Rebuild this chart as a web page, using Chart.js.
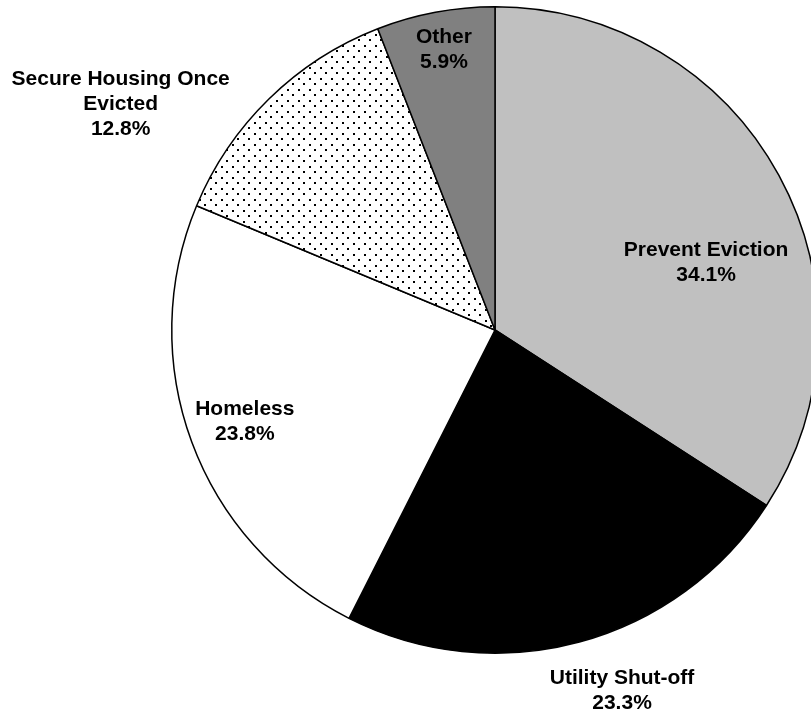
<!DOCTYPE html>
<html>
<head>
<meta charset="utf-8">
<script src="https://cdn.jsdelivr.net/npm/chart.js@4"></script>
<style>
  html, body { margin: 0; padding: 0; background: #ffffff; overflow: hidden; width: 811px; height: 715px; }
  #wrap { width: 990px; height: 715px; }
</style>
</head>
<body>
<div id="wrap"><canvas id="c" width="990" height="715"></canvas></div>
<script>
// ---- data ----
const categories = ["Prevent Eviction", "Utility Shut-off", "Homeless", "Secure Housing Once Evicted", "Other"];
const shares = [34.1, 23.3, 23.8, 12.8, 5.9];
const labelLines = [
  ["Prevent Eviction"],
  ["Utility Shut-off"],
  ["Homeless"],
  ["Secure Housing Once", "Evicted"],
  ["Other"]
];

// ---- label placement (fractions of radius from pie centre) ----
const labelOffsets = [
  [0.653, -0.207],
  [0.393, 1.115],
  [-0.774, 0.285],
  [-1.158, -0.700],
  [-0.158, -0.867]
];

// dotted pattern
function makeDots() {
  const t = document.createElement('canvas');
  t.width = 11; t.height = 11;
  const g = t.getContext('2d');
  g.fillStyle = '#ffffff';
  g.fillRect(0, 0, 11, 11);
  g.fillStyle = '#000000';
  g.fillRect(1, 1, 2, 2);
  g.fillRect(6, 6, 2, 2);
  return g.createPattern(t, 'repeat');
}

const ctx = document.getElementById('c').getContext('2d');
const fills = ['#c0c0c0', '#000000', '#ffffff', makeDots(), '#808080'];

const labelPlugin = {
  id: 'sliceLabels',
  afterDatasetsDraw(chart) {
    const meta = chart.getDatasetMeta(0);
    const c = chart.ctx;
    c.save();
    c.font = 'bold 21px "Liberation Sans", Arial, sans-serif';
    c.fillStyle = '#000000';
    c.textAlign = 'center';
    c.textBaseline = 'middle';
    const lh = 25;
    meta.data.forEach((arc, i) => {
      const r = arc.outerRadius;
      const cx = arc.x + labelOffsets[i][0] * r;
      const cy = arc.y + labelOffsets[i][1] * r;
      const lines = labelLines[i].concat([shares[i].toFixed(1) + '%']);
      const y0 = cy - (lines.length - 1) * lh / 2;
      lines.forEach((ln, k) => c.fillText(ln, cx, y0 + k * lh));
    });
    c.restore();
  }
};

new Chart(ctx, {
  type: 'pie',
  data: {
    labels: categories,
    datasets: [{
      data: shares,
      backgroundColor: fills,
      borderColor: '#000000',
      borderWidth: 1.5,
      hoverOffset: 0
    }]
  },
  options: {
    responsive: false,
    animation: false,
    devicePixelRatio: 1,
    layout: { padding: { top: 6, bottom: 61, left: 0, right: 0 } },
    plugins: {
      legend: { display: false },
      tooltip: { enabled: false },
      title: { display: false }
    }
  },
  plugins: [labelPlugin]
});
</script>
</body>
</html>
